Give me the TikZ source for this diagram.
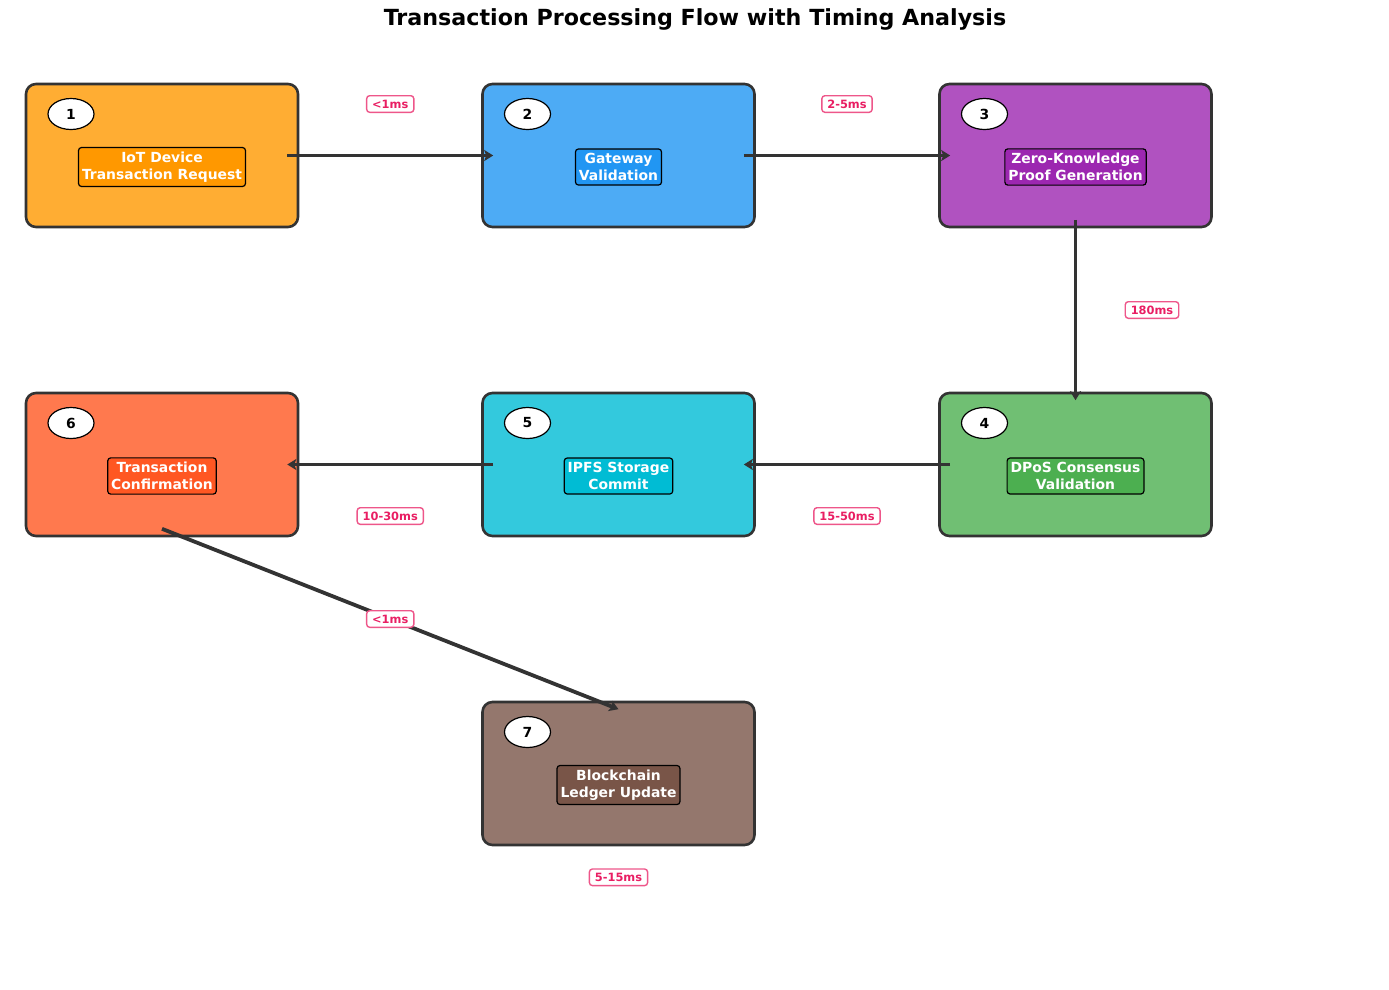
\documentclass[tikz,border=0pt]{standalone}
\usepackage{fontspec}
\setmainfont{DejaVu Sans}
\usetikzlibrary{shapes.geometric, arrows.meta, positioning, calc}
\definecolor{edgegray}{HTML}{333333}
\definecolor{iotorange}{HTML}{FF9800}
\definecolor{gatewayblue}{HTML}{2196F3}
\definecolor{zkpurple}{HTML}{9C27B0}
\definecolor{dposgreen}{HTML}{4CAF50}
\definecolor{ipfscyan}{HTML}{00BCD4}
\definecolor{confirmorange}{HTML}{FF5722}
\definecolor{ledgerbrown}{HTML}{795548}
\definecolor{timingpink}{HTML}{E91E63}

\begin{document}
\begin{tikzpicture}[
    x=1pt, y=-1pt,
    stage/.style={rectangle, rounded corners=10pt, draw=edgegray, line width=2.6pt, minimum width=272pt, minimum height=143pt, inner sep=0pt},
    caption/.style={rectangle, rounded corners=3pt, draw=black, line width=1.2pt, text=white, font=\bfseries\fontsize{13.9}{16.5}\selectfont, align=center, inner xsep=3.5pt, inner ysep=4.5pt},
    badge/.style={ellipse, draw=black, line width=1.2pt, fill=white, minimum width=46pt, minimum height=31pt, inner sep=0pt, font=\bfseries\fontsize{13.9}{16}\selectfont},
    timing/.style={rectangle, rounded corners=3pt, draw=timingpink!75, line width=1.4pt, fill=white, text=timingpink, font=\bfseries\fontsize{11.4}{13}\selectfont, inner xsep=5.5pt, inner ysep=4pt, text height=8.6pt, text depth=0pt},
    flow/.style={draw=edgegray, line width=3.8pt, -{Stealth[length=9pt, width=11pt, inset=2pt]}}
]
\useasboundingbox (0,0) rectangle (1389,989);

\node[font=\bfseries\fontsize{22.2}{26}\selectfont] (title) at (695,19) {Transaction Processing Flow with Timing Analysis};

\node[stage, fill=iotorange!80] (s1) at (162,155.5) {};
\node[stage, fill=gatewayblue!80] (s2) at (618.5,155.5) {};
\node[stage, fill=zkpurple!80] (s3) at (1075.5,155.5) {};
\node[stage, fill=dposgreen!80] (s4) at (1075.5,464.5) {};
\node[stage, fill=ipfscyan!80] (s5) at (618.5,464.5) {};
\node[stage, fill=confirmorange!80] (s6) at (162,464.5) {};
\node[stage, fill=ledgerbrown!80] (s7) at (618.5,773.5) {};

\node[badge] (n1) at ([xshift=-91pt, yshift=41.5pt]s1.center) {1};
\node[badge] (n2) at ([xshift=-91pt, yshift=41.5pt]s2.center) {2};
\node[badge] (n3) at ([xshift=-91pt, yshift=41.5pt]s3.center) {3};
\node[badge] (n4) at ([xshift=-91pt, yshift=41.5pt]s4.center) {4};
\node[badge] (n5) at ([xshift=-91pt, yshift=41.5pt]s5.center) {5};
\node[badge] (n6) at ([xshift=-91pt, yshift=41.5pt]s6.center) {6};
\node[badge] (n7) at ([xshift=-91pt, yshift=41.5pt]s7.center) {7};

\node[caption, fill=iotorange] (c1) at ([yshift=-11.5pt]s1.center) {IoT Device\\Transaction Request};
\node[caption, fill=gatewayblue] (c2) at ([yshift=-11.5pt]s2.center) {Gateway\\Validation};
\node[caption, fill=zkpurple] (c3) at ([yshift=-11.5pt]s3.center) {Zero-Knowledge\\Proof Generation};
\node[caption, fill=dposgreen] (c4) at ([yshift=-11.5pt]s4.center) {DPoS Consensus\\Validation};
\node[caption, fill=ipfscyan] (c5) at ([yshift=-11.5pt]s5.center) {IPFS Storage\\Commit};
\node[caption, fill=confirmorange] (c6) at ([yshift=-11.5pt]s6.center) {Transaction\\Confirmation};
\node[caption, fill=ledgerbrown] (c7) at ([yshift=-11.5pt]s7.center) {Blockchain\\Ledger Update};

\draw[flow] ([xshift=-12pt]s1.east) -- ([xshift=12pt]s2.west);
\draw[flow] ([xshift=-12pt]s2.east) -- ([xshift=12pt]s3.west);
\draw[flow] ([yshift=8.5pt]s3.south) -- ([yshift=-8.5pt]s4.north);
\draw[flow] ([xshift=12pt]s4.west) -- ([xshift=-12pt]s5.east);
\draw[flow] ([xshift=12pt]s5.west) -- ([xshift=-12pt]s6.east);
\draw[flow] ([yshift=8.5pt]s6.south) -- ([yshift=-8.5pt]s7.north);

\node[timing] (t12) at ($(s1)!0.5!(s2)+(0,-51.5)$) {<1ms};
\node[timing] (t23) at ($(s2)!0.5!(s3)+(0,-51.5)$) {2-5ms};
\node[timing] (t34) at ($(s3)!0.5!(s4)+(76.5,0)$) {180ms};
\node[timing] (t45) at ($(s4)!0.5!(s5)+(0,51.5)$) {15-50ms};
\node[timing] (t56) at ($(s5)!0.5!(s6)+(0,51.5)$) {10-30ms};
\node[timing] (t67) at ($(s6)!0.5!(s7)$) {<1ms};
\node[timing] (t7) at ([yshift=-31pt]s7.south) {5-15ms};
\end{tikzpicture}
\end{document}
